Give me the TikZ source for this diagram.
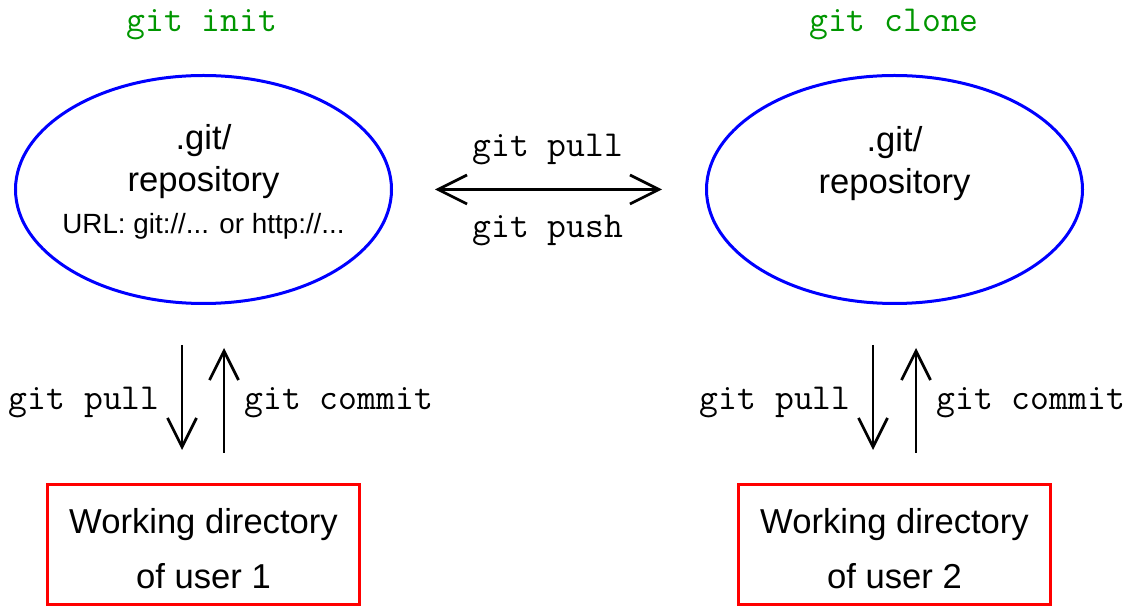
\documentclass[tikz,border=0pt]{standalone}
\usepackage{fontspec}
\setmainfont{Liberation Sans}
\usetikzlibrary{shapes,arrows.meta,positioning}
\definecolor{gitgreen}{RGB}{0,150,0}
\tikzstyle{repo} = [ellipse, draw=blue, line width=1.5pt, minimum width=188pt, minimum height=114pt]
\tikzstyle{wd} = [rectangle, draw=red, line width=1.5pt, minimum width=156pt, minimum height=60pt, align=center, font={\fontsize{17.3}{27.5}\selectfont}]
\tikzstyle{txt} = [align=center, font={\fontsize{17.3}{21}\selectfont}]
\tikzstyle{cmd} = [inner sep=0pt, font={\fontsize{18.3}{20}\ttfamily}]
\tikzstyle{arr} = [line width=1.35pt, -{Straight Barb[length=14.5pt,width=14.5pt]}]
\tikzstyle{arrr} = [line width=1.35pt, {Straight Barb[length=14.5pt,width=14.5pt]}-{Straight Barb[length=14.5pt,width=14.5pt]}]

\begin{document}
\begin{tikzpicture}[x=0.5pt,y=-0.5pt]
		\useasboundingbox (0,0) rectangle (1129,608);
		\node[repo](r1) at (203.5,189.5){};
		\node[repo,right=156pt of r1](r2){};
		\node[txt](t1) at ([yshift=4pt]r1.center){.git/\\repository\\{\fontsize{13.9}{21}\selectfont URL: git://... or http://...}};
		\node[txt](t2) at ([yshift=13pt]r2.center){.git/\\repository};
		\node[wd,below=89pt of r1](w1){\rule{0pt}{16.6pt}Working directory\\of user 1};
		\node[wd,below=89pt of r2](w2){\rule{0pt}{16.6pt}Working directory\\of user 2};
		
		\node[cmd,text=gitgreen,anchor=base](i1) at (202,32){git init};
		\node[cmd,text=gitgreen,anchor=base](c2) at (894,32){git clone};
		
		\draw[arrr,shorten <=21pt,shorten >=21.5pt] (r1.east) -- (r2.west);
		\node[cmd,anchor=base](p0) at (548,157){git pull};
		\node[cmd,anchor=base](h0) at (548,238){git push};
		
		\draw[arr,shorten <=20pt,shorten >=16.5pt] ([xshift=-10.75pt]r1.south) -- ([xshift=-10.75pt]w1.north);
		\draw[arr,shorten <=15pt,shorten >=21.5pt] ([xshift=10.25pt]w1.north) -- ([xshift=10.25pt]r1.south);
		\draw[arr,shorten <=20pt,shorten >=16.5pt] ([xshift=-10.75pt]r2.south) -- ([xshift=-10.75pt]w2.north);
		\draw[arr,shorten <=15pt,shorten >=21.5pt] ([xshift=10.75pt]w2.north) -- ([xshift=10.75pt]r2.south);
		\node[cmd,anchor=base east](p1) at (160,410){git pull};
		\node[cmd,anchor=base west](m1) at (244,410){git commit};
		\node[cmd,anchor=base east](p2) at (851,410){git pull};
		\node[cmd,anchor=base west](m2) at (936,410){git commit};
		\end{tikzpicture}
\end{document}
